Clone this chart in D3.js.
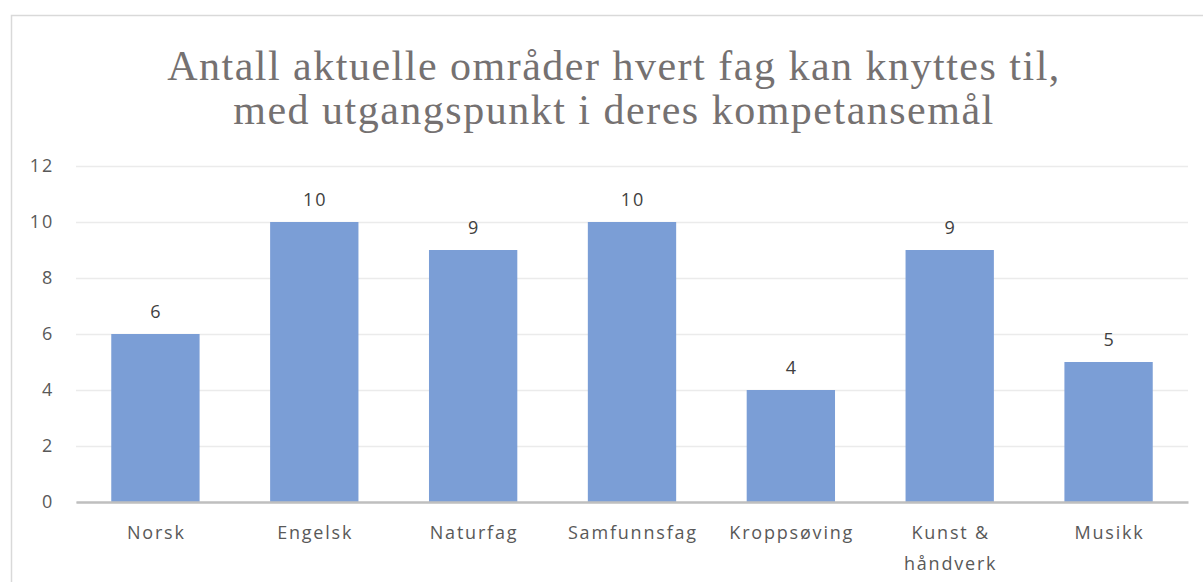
<!DOCTYPE html>
<html><head><meta charset="utf-8">
<script src="https://cdn.jsdelivr.net/npm/d3@7"></script>
<style>body{margin:0;background:#fff;} svg{display:block;}</style>
</head><body>
<svg id="c" width="1203" height="582"></svg>
<script>
const categories = ["Norsk", "Engelsk", "Naturfag", "Samfunnsfag", "Kroppsøving", "Kunst & håndverk", "Musikk"];
const values = [6, 10, 9, 10, 4, 9, 5];
const yTicks = [0, 2, 4, 6, 8, 10, 12];
const titleLines = ["Antall aktuelle områder hvert fag kan knyttes til,", "med utgangspunkt i deres kompetansemål"];

const LS = 1.8;
const svg = d3.select("#c");
svg.append("rect").attr("x", 11.5).attr("y", 15.5).attr("width", 1200).attr("height", 580)
  .attr("fill", "#fff").attr("stroke", "#d9d9d9").attr("stroke-width", 1.5);

const m = {l: 76, r: 1188, t: 166, b: 502};
const x = d3.scaleBand().domain(categories).range([m.l, m.r]).paddingInner(0.444).paddingOuter(0.222);
const y = d3.scaleLinear().domain([0, 12]).range([m.b, m.t]);

const ya = d3.axisLeft(y).tickValues(yTicks).tickSize(-(m.r - m.l)).tickPadding(22);
const gy = svg.append("g").attr("transform", `translate(${m.l},0)`).call(ya);
gy.select(".domain").remove();
gy.selectAll(".tick line").attr("stroke", "#ebebeb").attr("stroke-width", 1.5);
gy.selectAll(".tick text").attr("fill", "#595959").style("font-family", "Open Sans, sans-serif")
  .style("font-size", "18px").style("letter-spacing", LS + "px");

svg.append("g").selectAll("rect").data(values).join("rect")
  .attr("x", (d, i) => x(categories[i])).attr("width", x.bandwidth())
  .attr("y", d => y(d)).attr("height", d => y(0) - y(d))
  .attr("fill", "#7b9ed6");

svg.append("g").selectAll("text").data(values).join("text")
  .attr("x", (d, i) => x(categories[i]) + x.bandwidth() / 2 + LS / 2).attr("y", d => y(d) - 16)
  .attr("text-anchor", "middle").attr("fill", "#404040")
  .style("font-family", "Open Sans, sans-serif").style("font-size", "18px").style("letter-spacing", LS + "px").text(d => d);

const xa = d3.axisBottom(x).tickSize(0).tickPadding(0);
const gx = svg.append("g").attr("transform", `translate(0,${m.b})`).call(xa);
gx.select(".domain").attr("stroke", "#bfbfbf").attr("stroke-width", 2.5);
gx.selectAll(".tick text").remove();
gx.selectAll(".tick").each(function(d) {
  const t = d3.select(this).append("text").attr("fill", "#595959").attr("text-anchor", "middle")
    .style("font-family", "Open Sans, sans-serif").style("font-size", "18px").style("letter-spacing", LS + "px");
  const lines = d === "Kunst & håndverk" ? ["Kunst &", "håndverk"] : [d];
  lines.forEach((s, i) => t.append("tspan").attr("x", LS / 2).attr("y", 37 + i * 31).text(s));
});

svg.append("g").selectAll("text").data(titleLines).join("text")
  .attr("x", 614).attr("y", (d, i) => 80 + i * 44).attr("text-anchor", "middle")
  .attr("fill", "#757171").style("font-family", "Liberation Serif, serif").style("font-size", "42px")
  .style("letter-spacing", "1.5px")
  .text(d => d);
</script>
</body></html>
